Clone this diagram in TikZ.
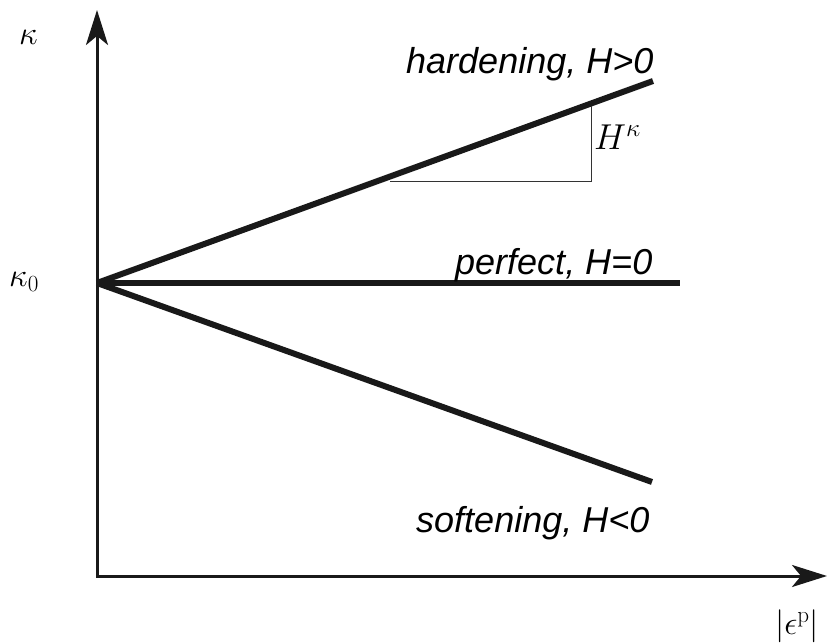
\RequirePackage{fix-cm}
\documentclass[tikz,border=0pt]{standalone}
\usepackage{fontspec}
\setsansfont{Liberation Sans}
\usetikzlibrary{arrows.meta}
\tikzset{
  axis/.style={line width=3pt, draw=black!90},
  curve/.style={line width=6pt, draw=black!90},
  thin/.style={line width=1pt, draw=black!80},
  lab/.style={font=\fontsize{36}{40}\selectfont\sffamily\itshape, anchor=base west, inner sep=0pt},
  mlab/.style={font=\fontsize{33}{38}\selectfont, inner sep=0pt}
}
\begin{document}
\begin{tikzpicture}[x=1pt,y=-1pt]
\useasboundingbox (0,0) rectangle (828,644);
\coordinate (O) at (97,576);
\coordinate (ytip) at (97,10);
\coordinate (xtip) at (827,576);
\coordinate (k0) at (97,283);
\coordinate (hend) at (653,81);
\coordinate (pend) at (680,283);
\coordinate (send) at (652,482);
\coordinate (t1) at (390,182);
\coordinate (t2) at (591,182);
\coordinate (t3) at (591,106);
\draw[axis, {Stealth[length=35pt,width=22pt,inset=9pt]}-{Stealth[length=35pt,width=22pt,inset=9pt]}] (ytip) -- (O) -- (xtip);
\draw[curve] (k0) -- (hend);
\draw[curve] (k0) -- (pend);
\draw[curve] (k0) -- (send);
\draw[thin] (t1) -- (t2) -- (t3);
\node[lab] (hl) at (406,74) {hardening, H>0};
\node[lab] (pl) at (455,275) {perfect, H=0};
\node[lab] (sl) at (416,532) {softening, H<0};
\node[mlab, font=\fontsize{36}{40}\selectfont, anchor=base west] (hk) at (594,150) {$H^\kappa$};
\node[mlab, anchor=base west] (kl) at (19,45) {$\kappa$};
\node[mlab, anchor=base west] (k0l) at (9,287) {$\kappa_0$};
\node[mlab] (el) at (797,626) {$\left|\epsilon^{\mathrm{p}}\right|$};
\end{tikzpicture}
\end{document}
